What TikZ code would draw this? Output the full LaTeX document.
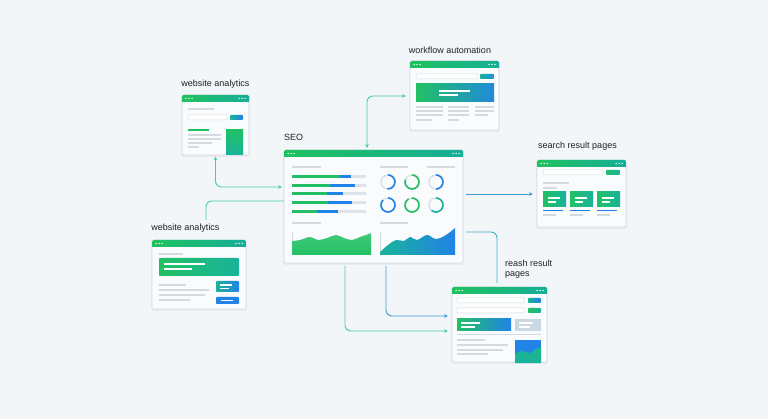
\documentclass[tikz,border=0pt]{standalone}
\usepackage{fontspec}
\setmainfont{Liberation Sans}
\usetikzlibrary{arrows.meta}
\definecolor{bgc}{HTML}{F3F6F8}
\definecolor{hgreen}{HTML}{1EC15E}
\definecolor{hteal}{HTML}{17AE98}
\definecolor{cgreen}{HTML}{22C064}
\definecolor{cteal}{HTML}{19B39A}
\definecolor{cblue}{HTML}{2183E6}
\definecolor{lgray}{HTML}{D3DAE0}
\definecolor{barbg}{HTML}{DCE3E9}
\definecolor{border}{HTML}{D6DEE3}
\definecolor{winfill}{HTML}{F9FBFC}
\definecolor{conn}{HTML}{46CDA5}
\definecolor{connb}{HTML}{3A9CD4}
\definecolor{txt}{HTML}{1E2226}
\definecolor{paleblue}{HTML}{C9D9E1}
\tikzset{
  winbox/.style={draw=border, line width=0.6pt, fill=winfill, rounded corners=1.5pt,
    inner sep=0pt, outer sep=0pt, anchor=north west},
  winshadow/.style={fill=black, opacity=0.045, rounded corners=2.5pt},
  gl/.style={draw=lgray, line width=1.2pt},
  wl/.style={draw=white, line width=1.1pt},
  field/.style={draw=border, fill=white, line width=0.5pt, rounded corners=0.8pt},
  cn/.style={draw=conn, line width=0.9pt, rounded corners=6pt},
  cnb/.style={draw=connb, line width=0.9pt, rounded corners=6pt},
  tip/.style={-{Stealth[length=4pt,width=3.6pt]}},
  tips/.style={{Stealth[length=4pt,width=3.6pt]}-{Stealth[length=4pt,width=3.6pt]}},
  lbl/.style={font=\fontsize{9}{10.5}\selectfont, text=txt, inner sep=0pt},
  ring/.style={line width=1.6pt}
}
\newcommand\mywin[5]{%
  \fill[winshadow] (#2-1,#3) rectangle (#2+#4+1,#3+#5+2);
  \node[winbox, minimum width=#4pt, minimum height=#5pt] (#1) at (#2,#3) {};
  \shade[left color=hgreen, right color=hteal] (#2,#3+7) [rounded corners=1.5pt] -- (#2,#3) -- (#2+#4,#3) [sharp corners] -- (#2+#4,#3+7) -- cycle;
  \foreach \d in {4,7,10} {\fill[white] (#2+\d,#3+3.5) circle (0.75); \fill[white] (#2+#4-\d,#3+3.5) circle (0.75);}
}
\begin{document}
\begin{tikzpicture}[x=1pt,y=-1pt]
\fill[bgc] (0,0) rectangle (768,419);
\useasboundingbox (0,0) rectangle (768,419);

% ---------- labels ----------
\node[lbl] (l1) at (215.5,84) {website analytics};
\node[lbl, anchor=west] (l2) at (284,137.5) {SEO};
\node[lbl] (l3) at (450,50) {workflow automation};
\node[lbl] (l4) at (577.5,146.5) {search result pages};
\node[lbl] (l5) at (185.5,228) {website analytics};
\node[lbl, anchor=north west, align=left] (l6) at (505,259.5) {reash result\\pages};

% ---------- window: website analytics (top) ----------
\mywin{wa1}{182}{95}{67}{60}
\draw[gl] (188,109) -- (214,109);
\draw[field] (188,115) rectangle (227,120);
\shade[left color=cteal, right color=cblue, rounded corners=0.8pt] (230,115) rectangle (243,120);
\draw[draw=cgreen, line width=1.3pt] (188,130) -- (209,130);
\draw[gl] (188,135) -- (221,135);
\draw[gl] (188,139) -- (221,139);
\draw[gl] (188,143) -- (212,143);
\draw[gl] (188,147) -- (199,147);
\shade[top color=cgreen, bottom color=cteal] (226,130) rectangle (243,154.5);

% ---------- window: workflow automation ----------
\mywin{wf}{410}{61}{89}{69}
\draw[field] (416,74) rectangle (477,79);
\shade[left color=cteal, right color=cblue!80!cteal, rounded corners=0.8pt] (480,74) rectangle (494,79);
\shade[left color=cgreen, right color=cblue!85!cteal] (416,84) rectangle (494,102);
\draw[wl] (439,91) -- (470,91);
\draw[wl] (439,95) -- (458,95);
\foreach \yy in {107,111,115} {\draw[gl] (416,\yy) -- (443,\yy); \draw[gl] (448,\yy) -- (469,\yy);}
\draw[gl] (416,120) -- (432,120);
\draw[gl] (448,120) -- (459,120);
\draw[gl] (475,107) -- (494,107);
\draw[gl] (475,111) -- (494,111);
\draw[gl] (475,115) -- (488,115);

% ---------- window: SEO ----------
\mywin{seo}{284}{150}{179}{113}
\draw[gl] (292,167) -- (321,167);
\draw[gl] (380,167) -- (408,167);
\draw[gl] (427,167) -- (455,167);
\foreach \yy/\ge/\be in {177/340/351, 186/330/355, 194/327/343, 203/328/352, 212/317/338} {
  \draw[line width=3pt, barbg] (292,\yy) -- (366,\yy);
  \draw[line width=3pt, cblue] (292,\yy) -- (\be,\yy);
  \draw[line width=3pt, cgreen] (292,\yy) -- (\ge,\yy);
}
% rings
\foreach \cx/\cy/\col/\ea in {388/182/cblue/95, 412/182/cgreen/200, 436/182/cblue/90,
                              388/205/cblue/225, 412/205/cgreen/240, 436/205/cteal/130} {
  \draw[ring, draw=barbg] (\cx,\cy) circle (7);
  \draw[ring, draw=\col] (\cx,\cy) ++(-90:7) arc[start angle=-90, end angle=\ea, radius=7];
}
\draw[gl] (292,223) -- (321,223);
\draw[gl] (380,223) -- (408,223);
\draw[draw=lgray, line width=0.6pt] (292,232) -- (292,255);
\draw[draw=lgray, line width=0.6pt] (380,232) -- (380,255);
\shade[top color=cgreen!85!white, bottom color=cgreen] (292,255) -- plot[smooth, tension=0.6] coordinates {(292,241) (300,240) (310,237) (318,240) (327,238) (336,235) (344,238) (352,240) (360,237) (366,235) (371,233)} -- (371,255) -- cycle;
\shade[left color=cteal, right color=cblue] (380,255) -- plot[smooth, tension=0.6] coordinates {(380,252) (388,245) (396,240) (404,241) (410,237) (417,240) (427,235) (436,239) (446,235) (455,228)} -- (455,255) -- cycle;

% ---------- window: search result pages ----------
\mywin{srp}{537}{160}{89}{67}
\draw[field] (543,170) rectangle (603,175);
\shade[left color=cgreen!80!cteal, right color=cteal, rounded corners=0.8pt] (606,170) rectangle (620,175);
\draw[gl] (543,183) -- (569,183);
\draw[gl] (543,188) -- (557,188);
\foreach \cx in {543,570,597} {
  \shade[left color=cgreen, right color=cteal] (\cx,192) rectangle (\cx+23,207);
  \draw[wl] (\cx+5,198) -- (\cx+17,198);
  \draw[wl] (\cx+5,202) -- (\cx+13,202);
  \draw[draw=cblue, line width=1.1pt] (\cx,210.5) -- (\cx+20,210.5);
  \draw[gl] (\cx,215) -- (\cx+13,215);
}

% ---------- window: website analytics (bottom) ----------
\mywin{wa2}{152}{240}{94}{69}
\draw[gl] (159,254) -- (183,254);
\shade[left color=cgreen, right color=cteal, rounded corners=0.8pt] (159,258) rectangle (239,276);
\draw[wl] (164,264) -- (205,264);
\draw[wl] (164,269) -- (192,269);
\draw[gl] (159,285) -- (186,285);
\draw[gl] (159,290) -- (209,290);
\draw[gl] (159,295) -- (205,295);
\draw[gl] (159,300) -- (190,300);
\shade[left color=cteal, right color=cblue, rounded corners=0.8pt] (216,281) rectangle (239,292);
\draw[wl] (220,285) -- (232,285);
\draw[wl] (220,288.5) -- (229,288.5);
\fill[cblue, rounded corners=0.8pt] (216,297) rectangle (239,304);
\draw[wl] (221,300.5) -- (233,300.5);

% ---------- window: reash result pages ----------
\mywin{rr}{452}{287}{95}{75}
\draw[field] (457,298) rectangle (524,303);
\shade[left color=cteal, right color=cblue, rounded corners=0.8pt] (528,298) rectangle (541,303);
\draw[field] (457,308) rectangle (524,313);
\shade[left color=cgreen, right color=cteal, rounded corners=0.8pt] (528,308) rectangle (541,313);
\shade[left color=cgreen, right color=cblue] (457,319) rectangle (511,331);
\draw[wl] (461,323) -- (480,323);
\draw[wl] (461,327) -- (475,327);
\fill[paleblue] (515,319) rectangle (541,331);
\draw[wl] (519,323) -- (533,323);
\draw[wl] (519,327) -- (530,327);
\draw[draw=lgray, line width=0.7pt] (457,334) -- (541,334);
\draw[gl] (457,340) -- (485,340);
\draw[gl] (457,345) -- (508,345);
\draw[gl] (457,350) -- (503,350);
\draw[gl] (457,354) -- (488,354);
\fill[cblue] (515,340) rectangle (541,363);
\shade[top color=cteal!80!cgreen, bottom color=cteal] (515,363) -- plot[smooth, tension=0.6] coordinates {(515,354) (522,351) (530,353) (536,349) (541,347)} -- (541,363) -- cycle;

% ---------- connectors ----------
\coordinate (ja) at (216,187);
\coordinate (jb0) at (206,220);
\coordinate (jb) at (0,201);
\coordinate (jc) at (367,96);
\coordinate (jd) at (0,194);
\coordinate (je0) at (0,232);
\coordinate (je1) at (497,283);
\coordinate (jf) at (386,316);
\coordinate (jg) at (345,331);

\draw[cn, tips, shorten <=1.5pt, shorten >=2pt] (wa1.south) |- (seo.west |- ja);
\draw[cn] (jb0) |- (seo.west |- jb);
\draw[cn, tips, shorten <=2pt, shorten >=4pt] (seo.north -| jc) |- (wf.west |- jc);
\draw[cnb, tip, shorten <=3pt, shorten >=4pt] (seo.east |- jd) -- (srp.west |- jd);
\draw[cnb, draw=connb!60!conn, shorten <=3pt] (seo.east |- je0) -| (je1);
\draw[cnb, tip, shorten <=3pt, shorten >=4pt] (seo.south -| jf) |- (rr.west |- jf);
\draw[cn, tip, shorten <=3pt, shorten >=4pt] (seo.south -| jg) |- (rr.west |- jg);
\end{tikzpicture}
\end{document}
